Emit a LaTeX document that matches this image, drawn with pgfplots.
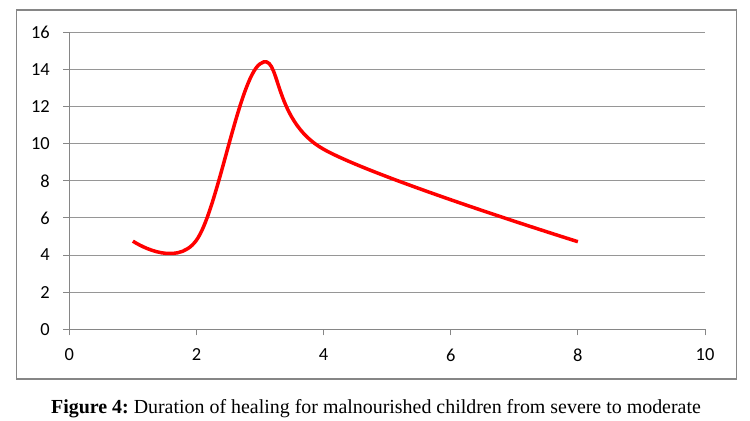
\documentclass[border=0pt]{standalone}
\usepackage{fontspec}
\setmainfont{Liberation Serif}
\newfontfamily\carlito{Carlito}
\usepackage{pgfplots}
\pgfplotsset{compat=1.18}
\definecolor{axgray}{RGB}{134,134,134}
\definecolor{gridgray}{RGB}{150,150,150}
\frenchspacing
\begin{document}
\begin{tikzpicture}
\useasboundingbox (-69.3bp,-91.7bp) rectangle (680.7bp,329.3bp);
\begin{axis}[
  scale only axis, width=635.7bp, height=297bp,
  at={(0,0)}, anchor=south west,
  xmin=0, xmax=10, ymin=0, ymax=16,
  xtick={0,2,...,10}, ytick={0,2,...,16},
  axis x line*=bottom, axis y line*=left,
  x axis line style={-}, y axis line style={-},
  axis line style={axgray, line width=0.9bp},
  ymajorgrids, grid style={gridgray, line width=0.9bp},
  tick align=outside, major tick length=6bp,
  tick style={axgray, line width=0.9bp},
  ticklabel style={font=\carlito\fontsize{18.5}{20}\selectfont, text=black},
  xticklabel style={yshift=-10bp},
  yticklabel style={xshift=-10bp},
  /pgf/number format/assume math mode=true,
  clip=false,
]
\addplot[red, line width=3.5bp, smooth, tension=0.6] coordinates {
  (1,4.75) (2,4.8) (3,14.3) (4,9.7) (8,4.72)
};
\end{axis}
\draw[axgray, line width=1.5bp] (-52.6bp,-49.7bp) rectangle (667.4bp,319.3bp);
\node[font=\fontsize{20}{23}\selectfont] at (306.7bp,-79bp)
  {\textbf{Figure 4:} Duration of healing for malnourished children from severe to moderate};
\end{tikzpicture}
\end{document}
